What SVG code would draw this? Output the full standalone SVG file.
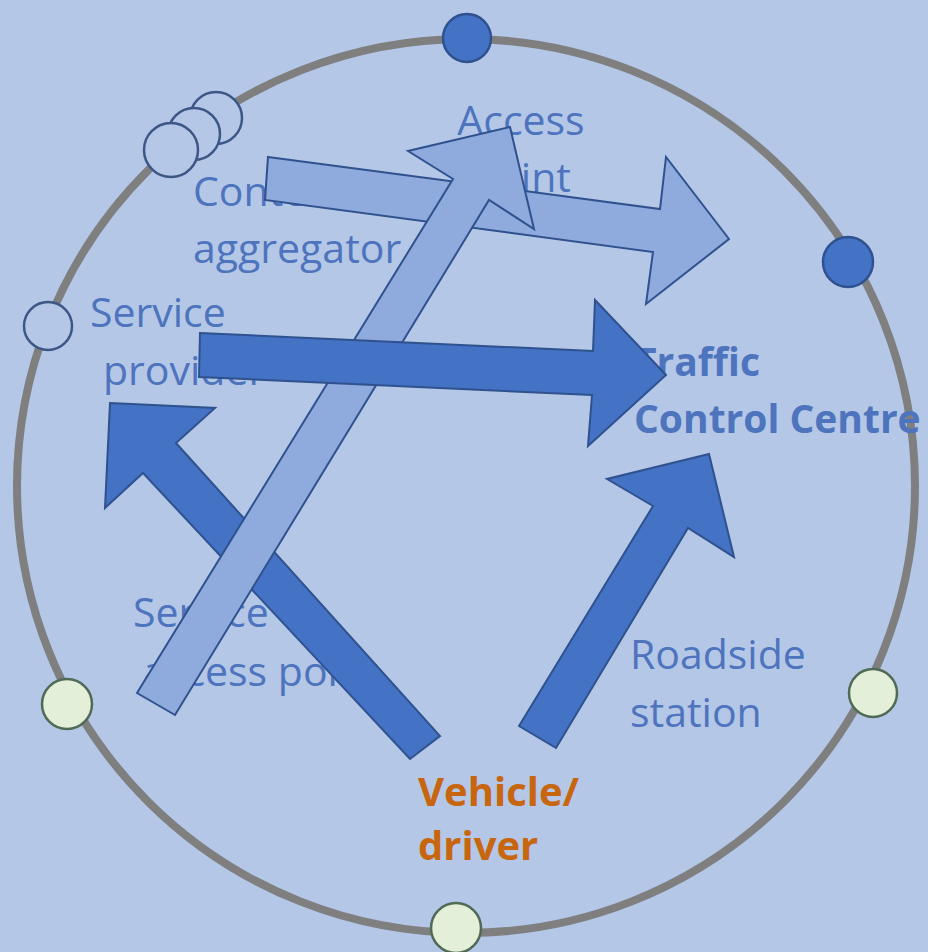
<svg xmlns="http://www.w3.org/2000/svg" width="928" height="952" viewBox="0 0 928 952">
<style>
.bg{fill:#b4c7e7}
.ring{fill:none;stroke:#7f7f7f;stroke-width:8}
.nfill{fill:#4472c4;stroke:#2f528f;stroke-width:2.5}
.nhollow{fill:#b4c7e7;stroke:#3c5685;stroke-width:2.5}
.nlight{fill:#e4efd9;stroke:#4f6b55;stroke-width:2.5}
.lbl{font-family:"Open Sans","Noto Sans",sans-serif;font-size:41px;fill:#4d74bd}
.bold{font-weight:bold;font-size:39px}
.veh{fill:#c8660f;font-size:40px}
.aL{fill:#8faadc;stroke:#2f528f;stroke-width:2;stroke-linejoin:miter}
.aD{fill:#4472c4;stroke:#2f528f;stroke-width:2;stroke-linejoin:miter}
</style>
<rect class="bg" x="0" y="0" width="928" height="952"/>
<ellipse class="ring" cx="466" cy="486" rx="449" ry="447"/>

<g id="access-point">
<circle class="nfill" cx="467" cy="38" r="24"/>
<text class="lbl" x="521" y="135" text-anchor="middle">Access</text>
<text class="lbl" x="521" y="192" text-anchor="middle">point</text>
</g>
<g id="content-aggregator">
<circle class="nhollow" cx="216" cy="118" r="26"/>
<circle class="nhollow" cx="194" cy="134" r="26"/>
<circle class="nhollow" cx="171" cy="150" r="27"/>
<text class="lbl" x="193" y="206">Content</text>
<text class="lbl" x="193" y="263">aggregator</text>
</g>
<g id="service-provider">
<circle class="nhollow" cx="48" cy="326" r="24"/>
<text class="lbl" x="90" y="327">Service</text>
<text class="lbl" x="103" y="385">provider</text>
</g>
<g id="traffic-control-centre">
<circle class="nfill" cx="848" cy="262" r="25"/>
<text class="lbl bold" x="634" y="376">Traffic</text>
<text class="lbl bold" x="634" y="433">Control Centre</text>
</g>
<g id="roadside-station">
<circle class="nlight" cx="873" cy="693" r="24"/>
<text class="lbl" x="630" y="669">Roadside</text>
<text class="lbl" x="630" y="727">station</text>
</g>
<g id="service-access-point">
<circle class="nlight" cx="67" cy="704" r="25"/>
<text class="lbl" x="133" y="627">Service</text>
<text class="lbl" x="143" y="686">access point</text>
</g>
<g id="vehicle-driver">
<circle class="nlight" cx="456" cy="928" r="25"/>
<text class="lbl bold veh" x="418" y="806">Vehicle/</text>
<text class="lbl bold veh" x="418" y="860">driver</text>
</g>

<g id="connectors">
<polygon class="aL" points="268,157 660,209 666,157 729,239 646,304 653,252 265,200"/>
<polygon class="aD" points="110,403 215,408 176,443 440,736 410,759 143,473 105,508"/>
<polygon class="aL" points="137,693 453,179 408,151 510,127 534,229 489,200 175,715"/>
<polygon class="aD" points="200,333 593,351 595,300 666,375 588,446 592,395 199,377"/>
<polygon class="aD" points="519,726 653,506 607,479 709,454 734,557 688,528 556,748"/>
</g>
</svg>
